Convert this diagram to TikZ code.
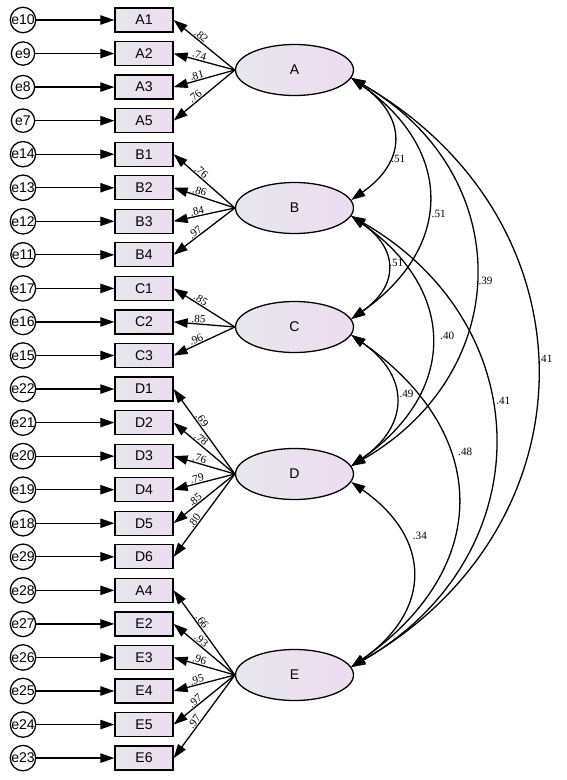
\documentclass[tikz,border=0pt]{standalone}
\usepackage{fontspec}
\setmainfont{Liberation Serif}
\newfontfamily\namefont{Liberation Sans}
\usetikzlibrary{arrows.meta,shapes.geometric}

\definecolor{shadegray}{RGB}{230,231,236}
\definecolor{shadepink}{RGB}{238,220,240}

\tikzstyle{item}=[rectangle,draw,line width=1.1pt,minimum width=1.74cm,minimum height=0.72cm,inner sep=0pt,left color=shadegray,right color=shadepink,font=\namefont\fontsize{12}{14}\selectfont]
\tikzstyle{err}=[circle,draw,fill=white,line width=1.1pt,minimum size=0.7cm,inner sep=0pt,font=\namefont\fontsize{12}{14}\selectfont]
\tikzstyle{factor}=[ellipse,draw,line width=1.1pt,minimum width=3.54cm,minimum height=1.53cm,inner sep=0pt,left color=shadegray,right color=shadepink,font=\namefont\fontsize{12}{14}\selectfont]
\tikzstyle{arr}=[line width=1.1pt,-{Triangle[length=4.2mm,width=2.8mm]}]
\tikzstyle{corr}=[line width=1.1pt,{Triangle[length=4.2mm,width=2.8mm]}-{Triangle[length=4.2mm,width=2.8mm]}]
\tikzstyle{coef}=[inner sep=0.5pt,font=\fontsize{9.5}{11}\selectfont]

\begin{document}
\begin{tikzpicture}[x=0.03cm,y=0.03cm]
          \useasboundingbox (0,0) rectangle (567,-780);

          % indicators and their error terms
          \foreach \lab/\e [count=\i] in {A1/10,A2/9,A3/8,A5/7,B1/14,B2/13,B3/12,B4/11,C1/17,C2/16,C3/15,D1/22,D2/21,D3/20,D4/19,D5/18,D6/29,A4/28,E2/27,E3/26,E4/25,E5/24,E6/23}{
            \node (m\i) at (144,{-20-(\i-1)*33.55}) [item] {\lab};
            \node (e\i) at (23,{-20-(\i-1)*33.55}) [err] {e\e};
            \draw[arr] (e\i) -- (m\i);
          }

          % latent factors
          \node (A) at (294.5,-70) [factor] {A};
          \node (B) at (294.5,-208) [factor] {B};
          \node (C) at (294.5,-327) [factor] {C};
          \node (D) at (294.5,-474) [factor] {D};
          \node (E) at (294.5,-675) [factor] {E};

          % loadings
          \foreach \f/\i/\v in {A/1/.82,A/2/.74,A/3/.81,A/4/.76,B/5/.76,B/6/.86,B/7/.84,B/8/.97,C/9/.85,C/10/.85,C/11/.96,D/12/.69,D/13/.78,D/14/.76,D/15/.79,D/16/.85,D/17/.80,E/18/.66,E/19/.93,E/20/.96,E/21/.95,E/22/.97,E/23/.97}{
            \draw[arr] (\f.west) -- node[coef,sloped,above,pos=0.6] {\v} (m\i.east);
          }

          % correlations
          \foreach \s/\t/\a/\l/\p/\dx/\v in {A/B/35/1.43/.66/1/.51,A/C/35/1.33/.56/3/.51,A/D/30/1.26/.52/2/.39,A/E/30/1.24/.48/1/.41,B/C/35/1.45/.46/1/.51,B/D/35/1.33/.48/7/.40,B/E/30/1.25/.42/4/.41,C/D/35/1.4/.45/3/.49,C/E/35/1.33/.36/7/.48,D/E/35/1.37/.3/8/.34}{
            \draw[corr] (\s.-8) to[out=-\a,in=\a,looseness=\l] node[coef,pos=\p,right,xshift=\dx] {\v} (\t.8);
          }
        \end{tikzpicture}
\end{document}
